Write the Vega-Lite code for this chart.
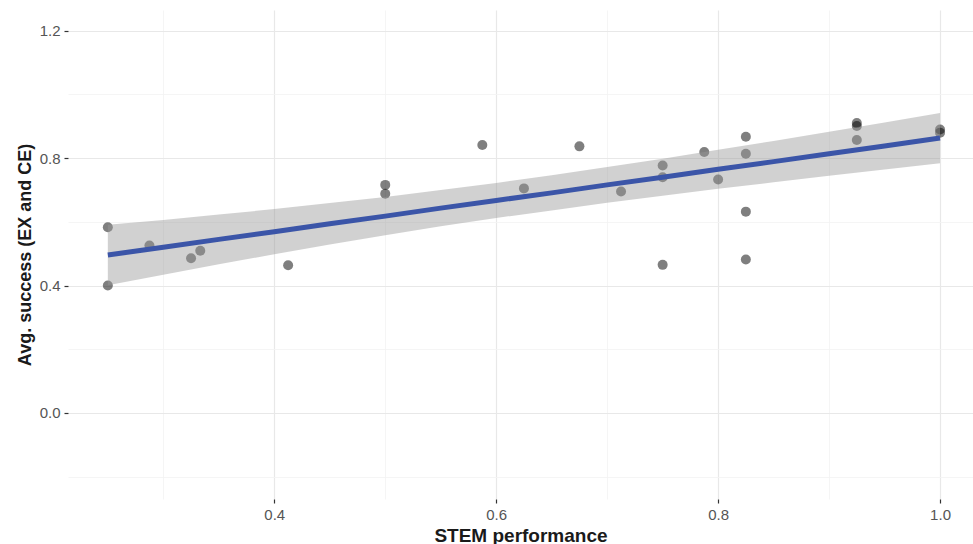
{
  "$schema": "https://vega.github.io/schema/vega-lite/v6.json",
  "width": 905,
  "height": 489,
  "autosize": {"type": "none"},
  "padding": {"left": 68, "top": 10, "right": 0, "bottom": 45},
  "background": "white",
  "config": {
    "view": {"stroke": null},
    "font": "Liberation Sans",
    "axis": {
      "domain": false,
      "tickColor": "#333333",
      "tickSize": 4,
      "tickWidth": 1.2,
      "labelColor": "#555555",
      "labelFont": "Liberation Sans",
      "labelFontSize": 15,
      "titleFont": "Liberation Sans",
      "titleFontWeight": "bold",
      "titleColor": "#1a1a1a"
    }
  },
  "datasets": {
    "pts": [
      {"stem": 0.25, "succ": 0.583},
      {"stem": 0.25, "succ": 0.400},
      {"stem": 0.2875, "succ": 0.526},
      {"stem": 0.325, "succ": 0.486},
      {"stem": 0.3333, "succ": 0.509},
      {"stem": 0.4125, "succ": 0.464},
      {"stem": 0.5, "succ": 0.716},
      {"stem": 0.5, "succ": 0.688},
      {"stem": 0.5875, "succ": 0.841},
      {"stem": 0.625, "succ": 0.705},
      {"stem": 0.675, "succ": 0.837},
      {"stem": 0.7125, "succ": 0.695},
      {"stem": 0.75, "succ": 0.777},
      {"stem": 0.75, "succ": 0.740},
      {"stem": 0.75, "succ": 0.465},
      {"stem": 0.7875, "succ": 0.819},
      {"stem": 0.8, "succ": 0.733},
      {"stem": 0.825, "succ": 0.867},
      {"stem": 0.825, "succ": 0.814},
      {"stem": 0.825, "succ": 0.632},
      {"stem": 0.825, "succ": 0.482},
      {"stem": 0.925, "succ": 0.910},
      {"stem": 0.925, "succ": 0.901},
      {"stem": 0.925, "succ": 0.857},
      {"stem": 1.0, "succ": 0.890},
      {"stem": 1.0, "succ": 0.880}
    ],
    "fit": [
      {"stem": 0.25, "fit": 0.496, "lo": 0.401, "hi": 0.591},
      {"stem": 0.30, "fit": 0.520, "lo": 0.434, "hi": 0.606},
      {"stem": 0.35, "fit": 0.545, "lo": 0.467, "hi": 0.623},
      {"stem": 0.40, "fit": 0.569, "lo": 0.498, "hi": 0.640},
      {"stem": 0.45, "fit": 0.594, "lo": 0.529, "hi": 0.659},
      {"stem": 0.50, "fit": 0.618, "lo": 0.558, "hi": 0.678},
      {"stem": 0.55, "fit": 0.643, "lo": 0.586, "hi": 0.700},
      {"stem": 0.60, "fit": 0.667, "lo": 0.612, "hi": 0.722},
      {"stem": 0.65, "fit": 0.691, "lo": 0.636, "hi": 0.746},
      {"stem": 0.70, "fit": 0.716, "lo": 0.660, "hi": 0.772},
      {"stem": 0.75, "fit": 0.740, "lo": 0.682, "hi": 0.798},
      {"stem": 0.80, "fit": 0.765, "lo": 0.704, "hi": 0.826},
      {"stem": 0.85, "fit": 0.789, "lo": 0.724, "hi": 0.854},
      {"stem": 0.90, "fit": 0.814, "lo": 0.745, "hi": 0.883},
      {"stem": 0.95, "fit": 0.838, "lo": 0.764, "hi": 0.912},
      {"stem": 1.00, "fit": 0.863, "lo": 0.784, "hi": 0.942}
    ]
  },
  "layer": [
    {
      "data": {"name": "pts"},
      "mark": {"type": "circle", "size": 100, "color": "#000000", "opacity": 0.5},
      "encoding": {
        "x": {
          "field": "stem", "type": "quantitative",
          "scale": {"domain": [0.2141, 1.0297], "nice": false, "zero": false},
          "axis": {
            "title": "STEM performance",
            "titleFontSize": 19,
            "titlePadding": 4,
            "labelPadding": 4,
            "values": [0.3, 0.4, 0.5, 0.6, 0.7, 0.8, 0.9, 1.0],
            "labelExpr": "abs(datum.value*5 - round(datum.value*5)) < 0.001 ? format(datum.value, '.1f') : ''",
            "gridColor": {"condition": {"test": "abs(datum.value*5 - round(datum.value*5)) < 0.001", "value": "#e8e8e8"}, "value": "#f2f2f2"},
            "gridWidth": {"condition": {"test": "abs(datum.value*5 - round(datum.value*5)) < 0.001", "value": 1.2}, "value": 0.8},
            "tickOpacity": {"condition": {"test": "abs(datum.value*5 - round(datum.value*5)) < 0.001", "value": 1}, "value": 0}
          }
        },
        "y": {
          "field": "succ", "type": "quantitative",
          "scale": {"domain": [-0.27, 1.265], "nice": false, "zero": false},
          "axis": {
            "title": "Avg. success (EX and CE)",
            "titleFontSize": 18,
            "titlePadding": 5,
            "labelPadding": 4,
            "values": [-0.2, 0, 0.2, 0.4, 0.6, 0.8, 1.0, 1.2],
            "labelExpr": "abs(datum.value*2.5 - round(datum.value*2.5)) < 0.001 ? format(datum.value, '.1f') : ''",
            "gridColor": {"condition": {"test": "abs(datum.value*2.5 - round(datum.value*2.5)) < 0.001", "value": "#e8e8e8"}, "value": "#f2f2f2"},
            "gridWidth": {"condition": {"test": "abs(datum.value*2.5 - round(datum.value*2.5)) < 0.001", "value": 1.2}, "value": 0.8},
            "tickOpacity": {"condition": {"test": "abs(datum.value*2.5 - round(datum.value*2.5)) < 0.001", "value": 1}, "value": 0}
          }
        }
      }
    },
    {
      "data": {"name": "fit"},
      "mark": {"type": "area", "color": "#999999", "opacity": 0.45},
      "encoding": {
        "x": {"field": "stem", "type": "quantitative"},
        "y": {"field": "lo", "type": "quantitative"},
        "y2": {"field": "hi"}
      }
    },
    {
      "data": {"name": "fit"},
      "mark": {"type": "line", "color": "#3b55a8", "strokeWidth": 5},
      "encoding": {
        "x": {"field": "stem", "type": "quantitative"},
        "y": {"field": "fit", "type": "quantitative"}
      }
    }
  ]
}
